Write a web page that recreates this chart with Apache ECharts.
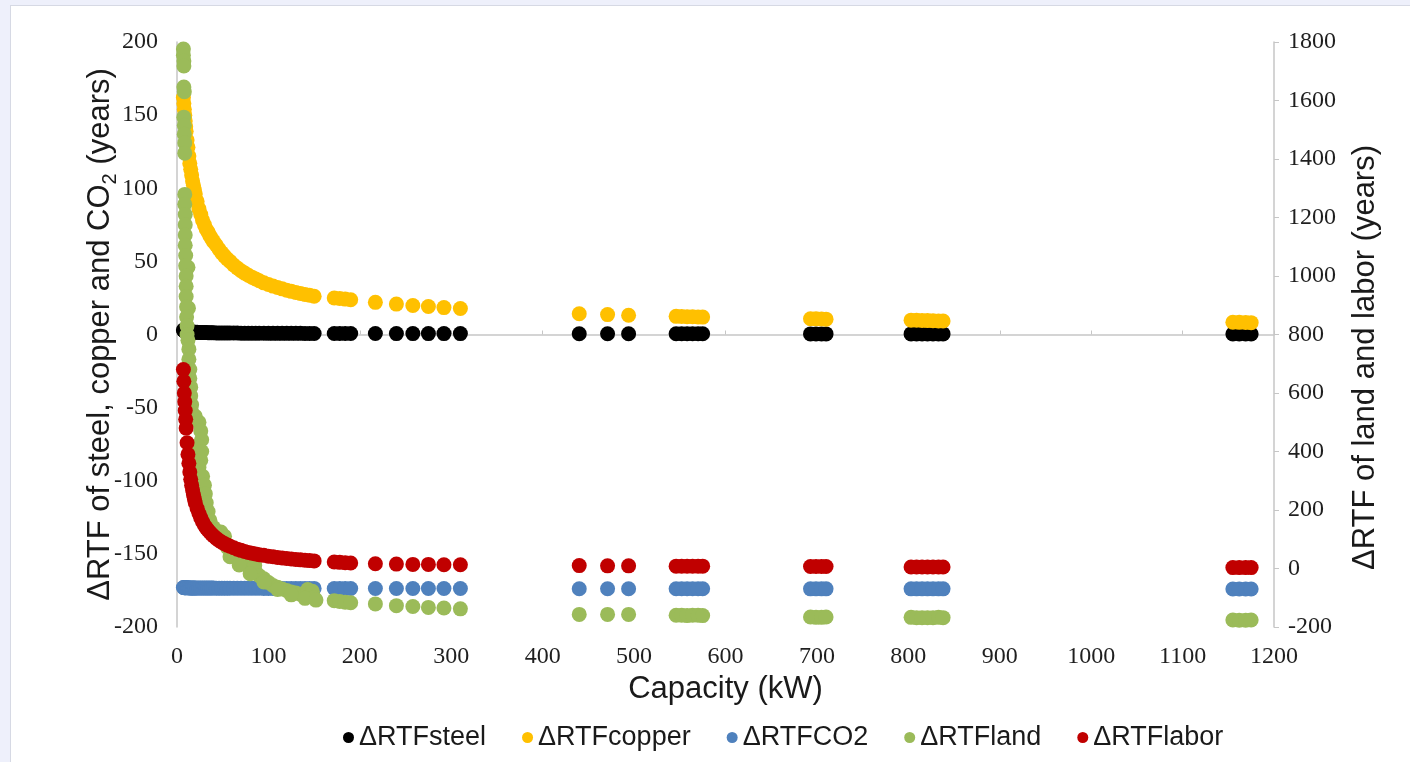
<!DOCTYPE html>
<html><head><meta charset="utf-8">
<script src="https://cdn.jsdelivr.net/npm/echarts@6/dist/echarts.min.js"></script>
<style>
html,body{margin:0;padding:0;width:1410px;height:762px;overflow:hidden;background:#eef0fb;}
#frame{position:absolute;left:10px;top:5px;right:0;bottom:0;background:#fff;border-left:1px solid #d6d9e4;border-top:1px solid #d6d9e4;}
#chart{position:absolute;left:0;top:0;width:1410px;height:762px;}
</style></head><body><div id="frame"></div><div id="chart"></div>
<script>
// Capacity (kW) shared by steel, copper, CO2 and labor
const capacity = [
  7, 7.5, 8, 8.5, 9, 9.5, 10,
  11, 12, 13, 14, 15, 16, 17, 18, 19, 20,
  22, 24, 26, 28, 30, 32, 34, 36, 38, 40,
  43, 46, 49, 52, 55, 58,
  62, 66, 70, 74, 78, 82, 86, 90,
  95, 100, 105, 110, 115, 120, 125, 130, 135, 140, 145, 150,
  172, 178, 184, 190, 217, 240, 258, 275, 292, 310,
  440, 471, 494,
  546, 552, 558, 564, 570, 575,
  693, 699, 705, 710,
  803, 809, 815, 821, 827, 833, 838,
  1155, 1162, 1169, 1175
];
// Left axis (years)
const steel = [
  3.0, 2.8, 2.6, 2.5, 2.4, 2.3, 2.2,
  2.1, 2.0, 1.9, 1.8, 1.8, 1.7, 1.7, 1.6, 1.6, 1.5,
  1.5, 1.4, 1.4, 1.3, 1.3, 1.3, 1.2, 1.2, 1.2, 1.2,
  1.1, 1.1, 1.1, 1.0, 1.0, 1.0,
  1.0, 1.0, 0.9, 0.9, 0.9, 0.9, 0.9, 0.9,
  0.9, 0.8, 0.8, 0.8, 0.8, 0.8, 0.8, 0.8, 0.8, 0.7, 0.7, 0.7,
  0.7, 0.7, 0.7, 0.7, 0.7, 0.6, 0.6, 0.6, 0.6, 0.6,
  0.5, 0.5, 0.5,
  0.5, 0.5, 0.5, 0.5, 0.5, 0.5,
  0.4, 0.4, 0.4, 0.4,
  0.4, 0.4, 0.4, 0.4, 0.4, 0.4, 0.4,
  0.3, 0.3, 0.3, 0.3
];
const copper = [
  162, 158, 154, 150, 146, 142, 139,
  133, 128, 122, 117, 113, 109, 105, 102, 99, 96,
  91, 86, 82, 78, 75, 72, 70, 67.5, 65.5, 63.5,
  61, 58.3, 55.8, 53.6, 51.6, 50,
  47.5, 45.5, 43.6, 42, 40.5, 39.2, 38, 36.8,
  35.3, 34.2, 33.1, 32.1, 31.2, 30.3, 29.5, 28.7, 28, 27.4, 26.8, 26.2,
  25, 24.6, 24.2, 23.8, 22, 20.8, 19.8, 19.1, 18.4, 17.8,
  14.2, 13.6, 13.2,
  12.4, 12.3, 12.2, 12.1, 12.0, 11.9,
  10.8, 10.7, 10.6, 10.5,
  9.8, 9.7, 9.6, 9.5, 9.4, 9.3, 9.2,
  8.4, 8.3, 8.2, 8.1
];
const co2 = [
  -173.0, -173.0, -173.1, -173.1, -173.1, -173.2, -173.2,
  -173.2, -173.2, -173.3, -173.3, -173.3, -173.3, -173.3, -173.4, -173.4, -173.4,
  -173.4, -173.4, -173.4, -173.4, -173.4, -173.4, -173.4, -173.4, -173.4, -173.4,
  -173.5, -173.5, -173.5, -173.5, -173.5, -173.5,
  -173.5, -173.5, -173.5, -173.5, -173.5, -173.5, -173.5, -173.5,
  -173.6, -173.6, -173.6, -173.6, -173.6, -173.6, -173.6, -173.6, -173.6, -173.6, -173.6, -173.6,
  -173.7, -173.7, -173.7, -173.7, -173.7, -173.7, -173.7, -173.7, -173.7, -173.7,
  -173.8, -173.8, -173.8,
  -173.8, -173.8, -173.8, -173.8, -173.8, -173.8,
  -173.9, -173.9, -173.9, -173.9,
  -173.9, -173.9, -173.9, -173.9, -173.9, -173.9, -173.9,
  -174, -174, -174, -174
];
// Right axis (years)
const labor = [
  680, 640, 600, 570, 540, 510, 480,
  430, 390, 360, 330, 305, 285, 268, 252, 238, 225,
  205, 188, 173, 160, 148, 139, 131, 124, 117, 111,
  103, 96, 90, 85, 80, 76,
  71, 66, 62, 58, 55, 52, 50, 47,
  45, 42, 40, 38, 36, 34, 32.5, 31, 29.5, 28, 27, 26,
  22, 21, 20, 19, 16, 15, 14, 14, 13, 13,
  10, 9, 9,
  8, 8, 8, 8, 8, 8,
  7, 7, 7, 7,
  5, 5, 5, 5, 5, 5, 5,
  3, 3, 3, 3
];
const landCapacity = [
  7, 7, 7.5, 7.5, 7.5, 8, 7.5, 8, 8, 8.5, 8.5,
  8.5, 8.5, 9, 9, 9, 9, 9.5, 12, 9.5, 10, 10, 10, 12.5, 10.5, 10.5, 11, 11,
  12, 13, 13, 14, 14, 15, 15, 16, 17,
  20, 24, 26, 27, 22, 27, 26, 24,
  28, 30, 31, 32, 34, 36, 40, 48, 52, 44,
  50, 55, 60, 66, 72, 78, 80, 82, 85, 86,
  90, 95, 100, 105, 110, 115, 120, 125, 130, 135,
  140, 143, 145, 148, 150,
  58, 68, 80, 95, 110, 125, 140, 152,
  172, 178, 184, 190, 217, 240, 258, 275, 292, 310,
  440, 471, 494,
  546, 552, 558, 564, 570, 575,
  693, 699, 705, 710,
  803, 809, 815, 821, 827, 833, 838,
  1155, 1162, 1169, 1175
];
const land = [
  1776, 1755, 1735, 1718, 1646, 1630, 1543, 1515, 1485, 1455, 1420,
  1279, 1245, 1210, 1175, 1140, 1105, 1070, 1030, 1035, 1000, 965, 930, 890, 895, 860, 830, 800,
  780, 750, 715, 680, 650, 620, 590, 560, 530,
  520, 500, 470, 440, 420, 400, 370, 345,
  315, 285, 255, 225, 195, 165, 140, 125, 110, 115,
  90, 72, 55, 38, 22, 8, 20, 0, 10, -12,
  -25, -35, -48, -58, -64, -70, -75, -80, -84, -88,
  -92, -72, -96, -78, -100,
  40, 12, -18, -46, -72, -90, -102, -108,
  -110, -113, -115, -117, -121, -127, -130, -133, -135, -138,
  -157, -157, -157,
  -160, -160, -161, -160, -160, -161,
  -166, -167, -167, -166,
  -167, -168, -168, -168, -168, -167, -168,
  -176, -177, -177, -176
];
const seriesNames = ['\u0394RTFsteel', '\u0394RTFcopper', '\u0394RTFCO2', '\u0394RTFland', '\u0394RTFlabor'];
const seriesColors = ['#000000', '#FFC000', '#4F81BD', '#9BBB59', '#C00000'];
const leftTicks = {min: -200, max: 200, interval: 50};
const rightTicks = {min: -200, max: 1800, interval: 200};
const xTicks = {min: 0, max: 1200, interval: 100};

const pair = (xs, ys) => xs.map((x, i) => [x, ys[i]]);
const seriesData = [
  {d: pair(capacity, steel), y: 0},
  {d: pair(capacity, copper), y: 0},
  {d: pair(capacity, co2), y: 0},
  {d: pair(landCapacity, land), y: 1},
  {d: pair(capacity, labor), y: 1}
];

const axisGrey = '#c6c6c6';
const plain = v => String(v);
const tickFont = {fontFamily: 'Liberation Serif', fontSize: 24, color: '#1f1f1f', formatter: plain};
const titleFont = {fontFamily: 'Liberation Sans', fontSize: 31, color: '#1a1a1a'};

const chart = echarts.init(document.getElementById('chart'));
chart.setOption({
  animation: false,
  grid: {left: 177, right: 136, top: 42, bottom: 135},
  legend: {
    data: seriesNames, left: 338, top: 719, icon: 'circle',
    itemWidth: 11, itemHeight: 11, itemGap: 36,
    textStyle: {fontFamily: 'Liberation Sans', fontSize: 27, color: '#1a1a1a'}
  },
  xAxis: [
    {type: 'value', min: xTicks.min, max: xTicks.max, interval: xTicks.interval, position: 'bottom',
     axisLine: {show: false, onZero: false}, axisTick: {show: false}, splitLine: {show: false},
     axisLabel: Object.assign({margin: 18}, tickFont),
     name: 'Capacity (kW)', nameLocation: 'middle', nameGap: 44, nameTextStyle: titleFont},
    {type: 'value', min: xTicks.min, max: xTicks.max, interval: xTicks.interval, position: 'top',
     axisLine: {show: true, onZero: true, onZeroAxisIndex: 0, lineStyle: {color: axisGrey, width: 1.5}},
     axisTick: {show: true, length: 4, lineStyle: {color: axisGrey}}, axisLabel: {show: false}, splitLine: {show: false}}
  ],
  yAxis: [
    {type: 'value', min: leftTicks.min, max: leftTicks.max, interval: leftTicks.interval, position: 'left',
     axisLine: {show: true, onZero: false, lineStyle: {color: axisGrey, width: 1.5}},
     axisTick: {show: false}, splitLine: {show: false},
     axisLabel: Object.assign({margin: 19}, tickFont),
     name: '\u0394RTF of steel, copper and CO{sub|2} (years)', nameLocation: 'middle', nameRotate: 90, nameGap: 57,
     nameMoveOverlap: false,
     nameTextStyle: Object.assign({lineHeight: 40, rich: {sub: {fontFamily: 'Liberation Sans', fontSize: 20, color: '#1a1a1a', lineHeight: 20, verticalAlign: 'bottom'}}}, titleFont)},
    {type: 'value', min: rightTicks.min, max: rightTicks.max, interval: rightTicks.interval, position: 'right',
     axisLine: {show: true, onZero: false, lineStyle: {color: axisGrey, width: 1.5}},
     axisTick: {show: true, inside: false, length: 5, lineStyle: {color: axisGrey}}, splitLine: {show: false},
     axisLabel: Object.assign({margin: 14}, tickFont),
     name: '\u0394RTF of land and labor (years)', nameLocation: 'middle', nameRotate: 90, nameGap: 76,
     nameTextStyle: Object.assign({padding: [0, 46, 0, 0]}, titleFont)}
  ],
  series: seriesNames.map((n, i) => ({
    name: n, type: 'scatter', xAxisIndex: 0, yAxisIndex: seriesData[i].y,
    symbol: 'circle', symbolSize: 15, data: seriesData[i].d,
    itemStyle: {color: seriesColors[i], opacity: 1},
    emphasis: {disabled: true}
  }))
});
</script>
</body></html>
